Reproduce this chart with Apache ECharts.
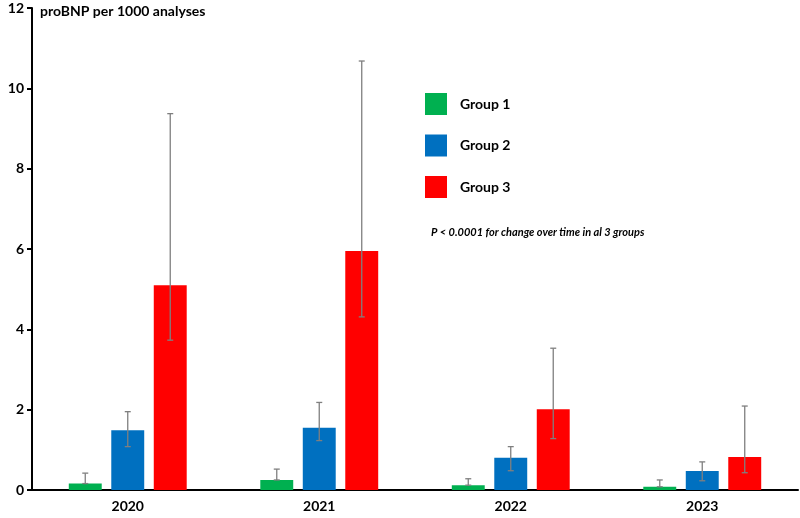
<!DOCTYPE html>
<html>
<head>
<meta charset="utf-8">
<script src="https://cdn.jsdelivr.net/npm/echarts@6/dist/echarts.min.js"></script>
<style>html,body{margin:0;padding:0;background:#fff}#c{width:800px;height:518px}</style>
</head>
<body>
<div id="c"></div>
<script>
const years = ['2020', '2021', '2022', '2023'];
const groupNames = ['Group 1', 'Group 2', 'Group 3'];
const group1 = [0.16, 0.25, 0.12, 0.08];
const group2 = [1.49, 1.55, 0.80, 0.47];
const group3 = [5.10, 5.95, 2.01, 0.82];
const group1Low = [0.16, 0.25, 0.12, 0.08];
const group1High = [0.42, 0.52, 0.28, 0.25];
const group2Low = [1.08, 1.23, 0.48, 0.23];
const group2High = [1.95, 2.18, 1.08, 0.70];
const group3Low = [3.73, 4.31, 1.28, 0.43];
const group3High = [9.37, 10.68, 3.53, 2.09];
const yTicks = [0, 2, 4, 6, 8, 10, 12];

const colors = ['#00B050', '#0070C0', '#FF0000'];
const values = [group1, group2, group3];
const lows = [group1Low, group2Low, group3Low];
const highs = [group1High, group2High, group3High];
const font = 'Lato, "Open Sans", sans-serif';
const barW = 0.172, gapRatio = 0.29;

const series = [];
values.forEach((v, i) => {
  series.push({
    name: groupNames[i], type: 'bar', data: v,
    barWidth: (barW * 100) + '%', barGap: (gapRatio * 100) + '%',
    itemStyle: { color: colors[i] }, z: 2
  });
});
values.forEach((v, i) => {
  series.push({
    type: 'custom', name: 'err' + i, z: 5, silent: true,
    data: years.map((y, k) => [k, lows[i][k], highs[i][k]]),
    renderItem: function (params, api) {
      const band = api.size([1, 0])[0];
      const off = (i - 1) * band * barW * (1 + gapRatio);
      const lo = api.coord([api.value(0), api.value(1)]);
      const hi = api.coord([api.value(0), api.value(2)]);
      const x = lo[0] + off;
      const cap = 3;
      const st = { stroke: '#7F7F7F', lineWidth: 1.3 };
      return { type: 'group', children: [
        { type: 'line', shape: { x1: x, y1: lo[1], x2: x, y2: hi[1] }, style: st },
        { type: 'line', shape: { x1: x - cap, y1: hi[1], x2: x + cap, y2: hi[1] }, style: st },
        { type: 'line', shape: { x1: x - cap, y1: lo[1], x2: x + cap, y2: lo[1] }, style: st }
      ]};
    }
  });
});

const chart = echarts.init(document.getElementById('c'));
chart.setOption({
  animation: false,
  backgroundColor: '#fff',
  title: { text: 'proBNP per 1000 analyses', left: 35, top: -1,
    textStyle: { fontFamily: font, fontSize: 14, fontWeight: 'bold', color: '#000' } },
  legend: {
    data: groupNames, orient: 'vertical', left: 420, top: 88,
    itemWidth: 22, itemHeight: 22, itemGap: 19.5, icon: 'rect',
    textStyle: { fontFamily: font, fontSize: 14, fontWeight: 'bold', color: '#000', padding: [0, 0, 0, 8] }
  },
  graphic: [{
    type: 'text', left: 431, top: 227,
    style: { text: 'P < 0.0001 for change over time in al 3 groups', fontFamily: font,
      fontSize: 11, fontWeight: 'bold', fontStyle: 'italic', fill: '#000' }
  }],
  grid: { left: 32, right: 2, top: 8, bottom: 28, containLabel: false },
  xAxis: {
    type: 'category', data: years,
    axisLine: { lineStyle: { color: '#000', width: 2 } },
    axisTick: { show: false },
    axisLabel: { fontFamily: font, fontSize: 14, fontWeight: 'bold', color: '#000', margin: 9 }
  },
  yAxis: {
    type: 'value', min: yTicks[0], max: yTicks[yTicks.length - 1], interval: 2,
    axisLine: { show: true, lineStyle: { color: '#000', width: 2 } },
    axisTick: { show: true, length: 5, lineStyle: { color: '#000', width: 2 } },
    splitLine: { show: false },
    axisLabel: { fontFamily: font, fontSize: 14, fontWeight: 'bold', color: '#000', margin: 8 }
  },
  series: series
});
</script>
</body>
</html>
